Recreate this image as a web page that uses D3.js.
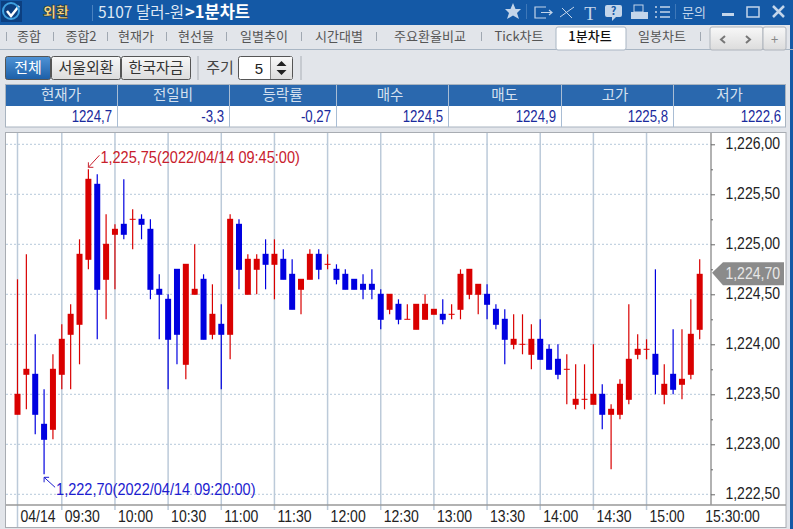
<!DOCTYPE html>
<html>
<head>
<meta charset="utf-8">
<script src="https://cdn.jsdelivr.net/npm/d3@7"></script>
<style>
html,body{margin:0;padding:0;background:#e2e5ea;overflow:hidden}
svg{display:block}
text{font-family:"Noto Sans CJK KR","Noto Sans",sans-serif}
.num{font-family:"Liberation Sans",sans-serif}
</style>
</head>
<body>
<div id="chart"></div>
<script>
// 5 minute candles, 04/14 09:05 - 15:30
var times = ["09:05","09:10","09:15","09:20","09:25","09:30","09:35","09:40","09:45","09:50","09:55","10:00",
  "10:05","10:10","10:15","10:20","10:25","10:30","10:35","10:40","10:45","10:50","10:55","11:00",
  "11:05","11:10","11:15","11:20","11:25","11:30","11:35","11:40","11:45","11:50","11:55","12:00",
  "12:05","12:10","12:15","12:20","12:25","12:30","12:35","12:40","12:45","12:50","12:55","13:00",
  "13:05","13:10","13:15","13:20","13:25","13:30","13:35","13:40","13:45","13:50","13:55","14:00",
  "14:05","14:10","14:15","14:20","14:25","14:30","14:35","14:40","14:45","14:50","14:55","15:00",
  "15:05","15:10","15:15","15:20","15:25","15:30"];
var opens = [1223.30,1223.70,1223.70,1223.20,1223.15,1223.70,1224.10,1224.20,1224.85,1225.60,1224.65,1225.10,
  1225.20,1225.25,1225.25,1225.15,1224.55,1224.45,1224.75,1223.80,1224.50,1224.65,1224.10,1224.20,
  1224.10,1225.20,1224.50,1224.75,1224.90,1224.80,1224.85,1224.70,1224.55,1224.65,1224.90,1224.80,
  1224.75,1224.70,1224.65,1224.60,1224.60,1224.50,1224.35,1224.40,1224.25,1224.15,1224.25,1224.30,
  1224.30,1224.30,1224.35,1224.50,1224.50,1224.50,1224.35,1224.25,1224.00,1224.00,1223.90,1224.05,
  1223.95,1223.85,1223.75,1223.40,1223.45,1223.40,1223.50,1223.30,1223.30,1223.45,1223.90,1223.95,
  1223.90,1223.50,1223.70,1223.60,1223.70,1224.15];
var highs = [1224.65,1224.90,1224.10,1223.55,1223.90,1224.20,1224.40,1225.05,1225.75,1225.70,1225.30,1225.20,
  1225.65,1225.35,1225.30,1225.25,1224.70,1224.50,1224.75,1224.80,1225.00,1224.70,1224.60,1224.40,
  1225.30,1225.25,1224.90,1224.90,1225.05,1225.05,1224.95,1224.85,1224.65,1224.95,1224.95,1224.90,
  1224.80,1224.75,1224.65,1224.70,1224.75,1224.55,1224.50,1224.45,1224.40,1224.40,1224.50,1224.35,
  1224.45,1224.40,1224.75,1224.75,1224.60,1224.60,1224.40,1224.35,1224.30,1224.30,1224.20,1224.25,
  1224.00,1224.00,1223.90,1223.80,1223.80,1224.00,1223.60,1223.40,1223.65,1224.40,1224.10,1224.05,
  1224.75,1223.80,1224.15,1224.15,1224.45,1224.85];
var lows = [1223.30,1223.35,1223.10,1222.70,1223.05,1223.55,1223.55,1223.80,1224.75,1224.05,1224.25,1224.55,
  1225.05,1224.95,1225.05,1224.45,1224.05,1223.55,1223.80,1223.65,1224.50,1224.05,1224.05,1223.55,
  1223.85,1224.55,1224.50,1224.50,1224.55,1224.45,1224.65,1224.35,1224.30,1224.65,1224.65,1224.75,
  1224.60,1224.55,1224.55,1224.45,1224.45,1224.15,1224.30,1224.20,1224.25,1224.15,1224.25,1224.30,
  1224.20,1224.25,1224.25,1224.45,1224.30,1224.25,1224.15,1223.80,1223.95,1223.90,1223.75,1223.85,
  1223.75,1223.65,1223.40,1223.35,1223.35,1223.40,1223.15,1222.75,1223.25,1223.40,1223.85,1223.85,
  1223.50,1223.40,1223.50,1223.45,1223.65,1224.05];
var closes = [1223.50,1223.75,1223.30,1223.05,1223.75,1224.05,1224.30,1224.90,1225.65,1224.55,1225.00,1225.15,
  1225.10,1225.25,1225.20,1224.55,1224.50,1224.05,1224.10,1224.80,1224.55,1224.05,1224.30,1224.10,
  1225.25,1224.75,1224.85,1224.85,1224.80,1224.90,1224.65,1224.35,1224.65,1224.90,1224.75,1224.80,
  1224.65,1224.55,1224.55,1224.55,1224.55,1224.25,1224.50,1224.25,1224.25,1224.40,1224.40,1224.35,
  1224.25,1224.30,1224.70,1224.75,1224.60,1224.40,1224.20,1224.05,1224.05,1224.00,1224.05,1223.85,
  1223.75,1223.70,1223.75,1223.45,1223.45,1223.50,1223.30,1223.35,1223.60,1223.85,1223.95,1223.95,
  1223.70,1223.60,1223.55,1223.65,1224.10,1224.70];

var priceTicks = [1222.5,1223,1223.5,1224,1224.5,1225,1225.5,1226];
var minorTicks = [1222.75,1223.25,1223.75,1224.25,1224.75,1225.25,1225.75];
var timeTicks = ["09:05","09:30","10:00","10:30","11:00","11:30","12:00","12:30","13:00","13:30","14:00","14:30","15:00","15:30"];
var timeLabels = ["04/14","09:30","10:00","10:30","11:00","11:30","12:00","12:30","13:00","13:30","14:00","14:30","15:00","15:30:00"];

var tabNames = ["종합","종합2","현재가","현선물","일별추이","시간대별","주요환율비교","Tick차트","1분차트","일봉차트"];
var tabCenters = [29,81,136,196,264,339,430,519,590,662];
var tabPipes = [6,53,107,166,226,301,376,481,700];
var headNames = ["현재가","전일비","등락률","매수","매도","고가","저가"];
var headValues = ["1224,7","-3,3","-0,27","1224,5","1224,9","1225,8","1222,6"];
var headEdges = [5,117,229,336,448,561,673,786];

var locale = d3.formatLocale({decimal:",",thousands:",",grouping:[3],currency:["",""]});
var fmt = locale.format(",.2f");

var svg = d3.select("#chart").append("svg").attr("width",793).attr("height",529);

function box(x,y,w,h,fill,stroke,r){
  return svg.append("rect").attr("x",x).attr("y",y).attr("width",w).attr("height",h)
    .attr("fill",fill).attr("stroke",stroke||"none").attr("rx",r||0);
}
function label(x,y,s,size,color,anchor){
  return svg.append("text").attr("x",x).attr("y",y).text(s)
    .attr("font-size",size).attr("fill",color).attr("text-anchor",anchor||"start");
}
// the numbers in the picture are tall and narrow
function narrow(sel,factor){
  sel.each(function(){
    var w = this.getComputedTextLength();
    d3.select(this).attr("textLength",w*factor).attr("lengthAdjust","spacingAndGlyphs");
  });
  return sel;
}

var defs = svg.append("defs");
var g1 = defs.append("linearGradient").attr("id","active").attr("x1",0).attr("y1",0).attr("x2",0).attr("y2",1);
g1.append("stop").attr("offset",0).attr("stop-color","#4f93d6");
g1.append("stop").attr("offset",1).attr("stop-color","#1c5fa8");
var g2 = defs.append("linearGradient").attr("id","btn").attr("x1",0).attr("y1",0).attr("x2",0).attr("y2",1);
g2.append("stop").attr("offset",0).attr("stop-color","#f8f8f8");
g2.append("stop").attr("offset",1).attr("stop-color","#dcdcdc");

// window
box(0,0,793,529,"#e2e5ea");
box(0,0,793,25,"#1459a6");
box(790,0,3,529,"#1459a6");

// logo + title
box(1,1,21,21,"#0c3f80");
svg.append("path").attr("d","M7 11 L11 16 L19 6").attr("fill","none").attr("stroke","#ffffff").attr("stroke-width",2.5);
svg.append("circle").attr("cx",11).attr("cy",11).attr("r",8).attr("fill","none").attr("stroke","#3fa0e0").attr("stroke-width",2);
label(43,17,"외환",14,"#f7dc8c").attr("font-weight",900).attr("stroke","#2a2000").attr("stroke-width",0.5);
box(92,5,1,16,"#4a82c0");
label(98,18,"5107 달러-원",15.5,"#dfe8f4");
label(185,18,">1분차트",16.5,"#ffffff").attr("font-weight",700);

// title bar icons
var ic = "#c3d5ea";
svg.append("path").attr("fill",ic)
  .attr("d","M513 3 L515.5 9 L521 9 L517 13 L519 19 L513 15.5 L507 19 L509 13 L505 9 L510.5 9 Z");
box(526,4,1,15,"#3f78b8");
svg.append("path").attr("fill","none").attr("stroke",ic).attr("stroke-width",1.2)
  .attr("d","M546 7 H535 V18 H546 M541 12.5 H552 M549 10 L552 12.5 L549 15");
svg.append("path").attr("fill","none").attr("stroke",ic).attr("stroke-width",1)
  .attr("d","M560 17 L574 7 M562 8 L572 18");
label(590,20,"T",19,ic,"middle").style("font-family","Liberation Serif");
svg.append("path").attr("fill",ic).attr("d","M607 5 H620 Q622 5 622 7 V15 Q622 17 620 17 H616 L612 21 V17 H607 Q605 17 605 15 V7 Q605 5 607 5 Z");
label(613.5,15,"?",11,"#1459a6","middle").attr("font-weight",700);
box(634,5,9,7,"none",ic);
box(631,12,17,7,ic);
svg.append("path").attr("fill","none").attr("stroke",ic).attr("stroke-width",1.4)
  .attr("d","M655 7 H657 M660 7 H670 M655 12 H657 M660 12 H670 M655 17 H657 M660 17 H670");
box(675,4,1,15,"#3f78b8");
label(682,17,"문의",13,ic);
box(722,13,12,3,ic);
box(747,7,12,10,"none",ic).attr("stroke-width",1.5);
svg.append("path").attr("fill","none").attr("stroke",ic).attr("stroke-width",2.5)
  .attr("d","M773 6 L784 17 M784 6 L773 17");

// tabs
box(0,49,793,1,"#a9b6c4");
box(556,27,70,23,"#ffffff","#a9b6c4",2);
svg.selectAll("rect.pipe").data(tabPipes).enter().append("rect").attr("class","pipe")
  .attr("x",function(d){return d;}).attr("y",32).attr("width",1).attr("height",9).attr("fill","#a0a8b2");
svg.selectAll("text.tab").data(tabNames).enter().append("text").attr("class","tab")
  .attr("x",function(d,i){return tabCenters[i];}).attr("y",41)
  .attr("text-anchor","middle").attr("font-size",13)
  .attr("fill",function(d,i){return i==8?"#111":"#555";})
  .attr("font-weight",function(d,i){return i==8?500:400;})
  .text(function(d){return d;});
box(710,27,53,23,"url(#btn)","#aeb4bc",2);
box(763,27,23,23,"url(#btn)","#aeb4bc",2);
svg.append("path").attr("fill","none").attr("stroke","#777").attr("stroke-width",2)
  .attr("d","M725 36 L721 39.5 L725 43 M746 36 L750 39.5 L746 43");
label(774.5,44,"+",13,"#888","middle");

// control row
box(5.5,56.5,45,23,"url(#active)","#555",2);
box(51.5,56.5,69,23,"url(#btn)","#555",2);
box(121.5,56.5,69,23,"url(#btn)","#555",2);
label(28,73,"전체",15,"#ffffff","middle");
label(86,73,"서울외환",15,"#333","middle");
label(156,73,"한국자금",15,"#333","middle");
box(197,56,2,24,"#c6cad0");
label(220,73,"주기",15,"#444","middle");
box(238.5,56.5,54,23,"#ffffff","#555",2);
box(270,57,22,22,"url(#btn)");
box(270,57,1,22,"#888");
label(263,74,"5",15,"#222","end").attr("class","num");
svg.append("path").attr("fill","#222").attr("d","M276.5 66 L281.5 61 L286.5 66 Z M276.5 70 L281.5 75 L286.5 70 Z");
box(300,56,2,24,"#c6cad0");

// quote table
box(5,84.5,781,21.5,"#2a68ae");
box(5,106,781,21,"#ffffff");
box(5.5,84.5,780,42.5,"none","#a9b4c0");
headNames.forEach(function(h,i){
  var l = headEdges[i], r = headEdges[i+1];
  if(i>0) box(l,85,1,42,"#a9bdd4");
  label((l+r)/2-(i==3||i==5?2:0),100,h,14.5,"#d4e0ef","middle");
  narrow(label(r-5,122,headValues[i],16.5,"#1a2a9c","end").attr("class","num"),0.8);
});

// chart panel
box(5.5,132.5,780.5,395,"#ffffff","#a8acb2");

var y = d3.scaleLinear().domain([1222.5,1226]).range([494.3,144.3]);
var x = d3.scalePoint().domain(times).range([17.5,699.7]);

// grid
svg.append("g").selectAll("line").data(priceTicks).enter().append("line")
  .attr("x1",6).attr("x2",711).attr("y1",function(d){return y(d);}).attr("y2",function(d){return y(d);})
  .attr("stroke","#b6c8da").attr("stroke-width",1).attr("stroke-dasharray","2,2");
svg.append("g").selectAll("line").data(timeTicks.slice(0,-1)).enter().append("line")
  .attr("x1",function(d){return x(d);}).attr("x2",function(d){return x(d);})
  .attr("y1",133).attr("y2",function(d,i){return i==0?527:510;})
  .attr("stroke","#bccad9").attr("stroke-width",1.5);

// candles
var idx = d3.range(times.length);
var candles = svg.append("g");
var colorOf = function(i){return closes[i]>=opens[i]?"#d90000":"#0000e0";};
candles.selectAll("line").data(idx).enter().append("line")
  .attr("x1",function(i){return x(times[i]);}).attr("x2",function(i){return x(times[i]);})
  .attr("y1",function(i){return y(highs[i]);}).attr("y2",function(i){return y(lows[i]);})
  .attr("stroke",colorOf).attr("stroke-width",1.2);
candles.selectAll("rect").data(idx).enter().append("rect")
  .attr("x",function(i){return x(times[i])-3;})
  .attr("y",function(i){return y(Math.max(opens[i],closes[i]))-0.5;})
  .attr("width",6)
  .attr("height",function(i){return Math.abs(y(opens[i])-y(closes[i]))+1;})
  .attr("fill",colorOf);

// axes
var yAxis = svg.append("g").attr("transform","translate(711,0)")
  .call(d3.axisRight(y).tickValues(priceTicks).tickFormat(fmt).tickSize(4));
var yMinor = svg.append("g").attr("transform","translate(711,0)")
  .call(d3.axisRight(y).tickValues(minorTicks).tickFormat("").tickSize(2));
yAxis.select(".domain").attr("d","M0,133V505").attr("stroke","#999").attr("stroke-width",1.5);
yMinor.select(".domain").remove();
yAxis.selectAll(".tick line").attr("stroke","#666");
yMinor.selectAll(".tick line").attr("stroke","#666");
narrow(yAxis.selectAll("text").attr("x",69).attr("text-anchor","end").attr("dy",4)
  .style("font-family","Liberation Sans").style("font-size","16.5px").attr("fill","#222"),0.85);

var xAxis = svg.append("g").attr("transform","translate(0,505)")
  .call(d3.axisBottom(x).tickValues(timeTicks)
    .tickFormat(function(d){return timeLabels[timeTicks.indexOf(d)];}).tickSize(0));
xAxis.select(".domain").attr("d","M6,0H786").attr("stroke","#999").attr("stroke-width",1.5);
narrow(xAxis.selectAll("text").attr("text-anchor","start")
  .attr("x",function(d){return d=="15:30"?5:2.5;}).attr("y",17).attr("dy",0)
  .style("font-family","Liberation Sans").style("font-size","16.5px").attr("fill","#222"),0.85);

// high / low callouts
function callout(i,value,stamp,color,dir){
  var px = x(times[i]), py = y(value);
  var tipY = dir>0 ? py-2 : py+3;
  var endX = px+11, endY = dir>0 ? py-14 : py+13;
  var base = dir>0 ? endY+8 : endY+8;
  svg.append("path").attr("fill","none").attr("stroke",color).attr("stroke-width",1)
    .attr("d","M"+endX+" "+endY+" L"+px+" "+tipY+" M"+px+" "+(tipY+(dir>0?-5:5))+" V"+tipY+" H"+(px+5));
  narrow(svg.append("text").attr("class","num").attr("x",endX+1).attr("y",base)
    .attr("font-size",16.5).attr("fill",color)
    .text(fmt(value)+"("+stamp+")"),0.88);
}
var hiI = highs.indexOf(d3.max(highs)), loI = lows.indexOf(d3.min(lows));
callout(hiI,highs[hiI],"2022/04/14 09:45:00","#c8202c",1);
callout(loI,lows[loI],"2022/04/14 09:20:00","#1c1cd0",-1);

// last price tag
var last = closes[closes.length-1];
var ty = y(last)-1.5;
svg.append("path").attr("fill","#8b8b8b")
  .attr("d",d3.line()([[712,ty],[723,ty-10.5],[784,ty-10.5],[784,ty+12.5],[723,ty+12.5]])+"Z");
narrow(svg.append("text").attr("class","num").attr("x",780).attr("y",ty+6).attr("text-anchor","end")
  .attr("font-size",16.5).attr("fill","#e8e8e8").text(fmt(last)),0.85);
</script>
</body>
</html>
